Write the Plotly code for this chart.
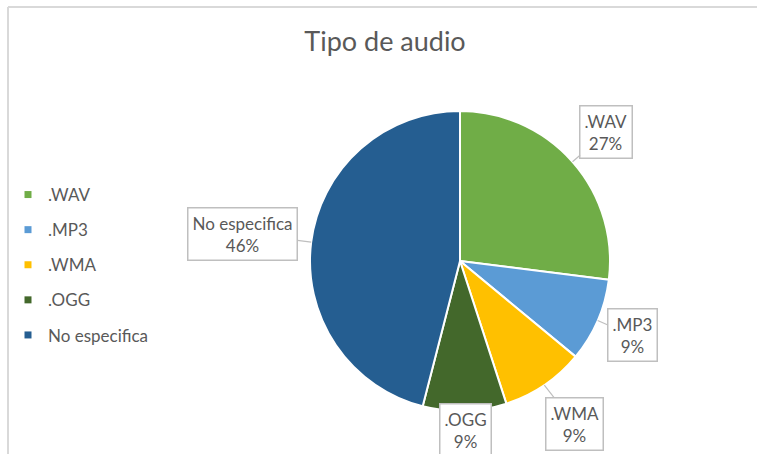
import math
import plotly.graph_objects as go

# data
labels = ['.WAV', '.MP3', '.WMA', '.OGG', 'No especifica']
values = [27, 9, 9, 9, 46]
colors = ['#70AD47', '#5B9BD5', '#FFC000', '#43682B', '#255E91']

W, H = 757, 454
TXT = '#595959'
FONT = 'Lato, Carlito, Calibri, sans-serif'

# pie placement (pixels)
cx, cy, r = 460, 261, 150
# how far each callout box sits from the centre, in radii
label_r = [1.30, 1.25, 1.31, 1.13, 1.46]

fig = go.Figure()

fig.add_trace(go.Pie(
    labels=labels, values=values, sort=False, direction='clockwise', rotation=0,
    marker=dict(colors=colors, line=dict(color='white', width=2)),
    textinfo='none', hoverinfo='label+percent', showlegend=False,
    domain=dict(x=[(cx - r) / W, (cx + r) / W], y=[1 - (cy + r) / H, 1 - (cy - r) / H]),
))

# legend entries (small squares like Excel)
for lab, col in zip(labels, colors):
    fig.add_trace(go.Scatter(x=[None], y=[None], mode='markers', name=lab, legendgroup=lab,
                             marker=dict(symbol='square', size=7, color=col)))

# callout labels
total = sum(values)
cum = 0
for i, (lab, v) in enumerate(zip(labels, values)):
    mid = (cum + v / 2) / total * 2 * math.pi
    cum += v
    sx, sy = math.sin(mid), -math.cos(mid)
    px, py = cx + r * sx, cy + r * sy
    bx, by = cx + r * label_r[i] * sx, cy + r * label_r[i] * sy
    fig.add_annotation(
        x=px / W, y=1 - py / H, xref='paper', yref='paper',
        ax=bx - px + (4 if lab == '.WMA' else 0), ay=by - py,
        text=f"{lab}<br>{v / total:.0%}", showarrow=True, arrowhead=0,
        arrowcolor='#BFBFBF', arrowwidth=1.2, standoff=0,
        bordercolor='#BFBFBF', borderwidth=1.5, borderpad=4, bgcolor='white',
        font=dict(family=FONT, size=17, color=TXT), align='center',
    )

# chart frame (Excel chart area border, cut by the screenshot)
fig.add_shape(type='line', xref='paper', yref='paper',
              x0=8 / W, x1=1, y0=1 - 7 / H, y1=1 - 7 / H,
              line=dict(color='#D9D9D9', width=2), layer='above')
fig.add_shape(type='line', xref='paper', yref='paper',
              x0=8 / W, x1=8 / W, y0=0, y1=1 - 7 / H,
              line=dict(color='#D9D9D9', width=2), layer='above')

fig.update_layout(
    width=W, height=H,
    margin=dict(l=0, r=0, t=0, b=0),
    paper_bgcolor='white', plot_bgcolor='white',
    font=dict(family=FONT, color=TXT),
    title=dict(text='Tipo de audio', x=385 / W, xanchor='center', y=1 - 42 / H, yanchor='middle',
               font=dict(family=FONT, size=27, color=TXT)),
    xaxis=dict(visible=False), yaxis=dict(visible=False),
    legend=dict(x=8 / W, xanchor='left', y=1 - 177 / H, yanchor='top',
                font=dict(family=FONT, size=17, color=TXT),
                tracegroupgap=10, itemclick=False, bgcolor='rgba(0,0,0,0)'),
)

fig.write_html("out.html", config={'displayModeBar': False},
               post_script="document.body.style.margin='0';")
